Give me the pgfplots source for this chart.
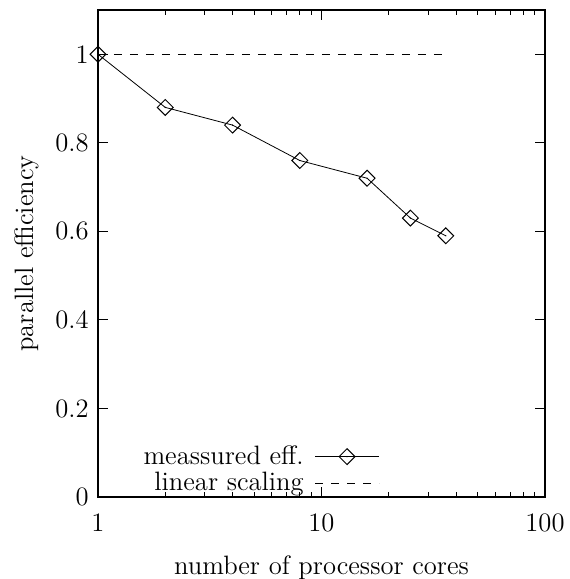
\documentclass[border=0pt]{standalone}
\usepackage{fontspec}
\usepackage{pgfplots}
\pgfplotsset{compat=1.18}

% diamond with a centre dot, as gnuplot draws its point type
\pgfdeclareplotmark{diamonddot}{%
  \pgfpathmoveto{\pgfqpoint{0pt}{1.414\pgfplotmarksize}}%
  \pgfpathlineto{\pgfqpoint{1.414\pgfplotmarksize}{0pt}}%
  \pgfpathlineto{\pgfqpoint{0pt}{-1.414\pgfplotmarksize}}%
  \pgfpathlineto{\pgfqpoint{-1.414\pgfplotmarksize}{0pt}}%
  \pgfpathclose
  \pgfusepathqstroke
  \pgfpathcircle{\pgfpointorigin}{0.35pt}%
  \pgfusepathqfill
}

\begin{document}
\fontsize{13.3}{16}\selectfont
\begin{tikzpicture}
\path[use as bounding box] (-49pt,-41pt) rectangle (235.5pt,248.5pt);
\begin{axis}[
  at={(0,0)}, anchor=south west,
  scale only axis,
  width=223.5pt, height=243.5pt,
  xmode=log, log basis x=10,
  xmin=1, xmax=100,
  ymin=0, ymax=1.1,
  xtick={1,10,100},
  xticklabels={1,10,100},
  minor xtick={2,3,4,5,6,7,8,9,20,30,40,50,60,70,80,90},
  ytick={0,0.2,0.4,0.6,0.8,1},
  yticklabels={0,0.2,0.4,0.6,0.8,1},
  /pgf/number format/assume math mode=true,
  tick align=inside,
  major tick length=5pt,
  minor tick length=2.5pt,
  axis line style={line width=0.8pt},
  every tick/.style={black, line width=0.5pt},
  tick label style={font=\fontsize{13.3}{16}\selectfont},
  xticklabel style={yshift=-4pt},
  label style={font=\fontsize{13.3}{16}\selectfont},
  xlabel={number of processor cores},
  ylabel={parallel efficiency},
  xlabel style={yshift=-2.5pt},
  ylabel style={yshift=-1pt},
  legend plot pos=right,
  legend cell align=right,
  legend style={draw=none, fill=none, at={(0.644,-0.012)}, anchor=south east,
    row sep=-2pt, font=\fontsize{13.3}{16}\selectfont,
    /tikz/every odd column/.append style={column sep=3.5pt}},
  legend image code/.code={%
    \draw[#1,mark=none] (0pt,0pt) -- (32pt,0pt);
    \draw[#1,only marks] plot coordinates {(16pt,0pt)};},
]
\addplot[black, line width=0.4pt, mark=diamonddot, mark size=2.8pt,
  mark options={solid, line width=0.5pt}] coordinates {
  (1,1.00) (2,0.88) (4,0.84) (8,0.76) (16,0.72) (25,0.63) (36,0.59)
};
\addlegendentry{meassured eff.}
\addplot[black, line width=0.4pt, dash pattern=on 4pt off 4pt] coordinates {
  (1,1) (36,1)
};
\addlegendentry{linear scaling}
\end{axis}
\end{tikzpicture}
\end{document}
